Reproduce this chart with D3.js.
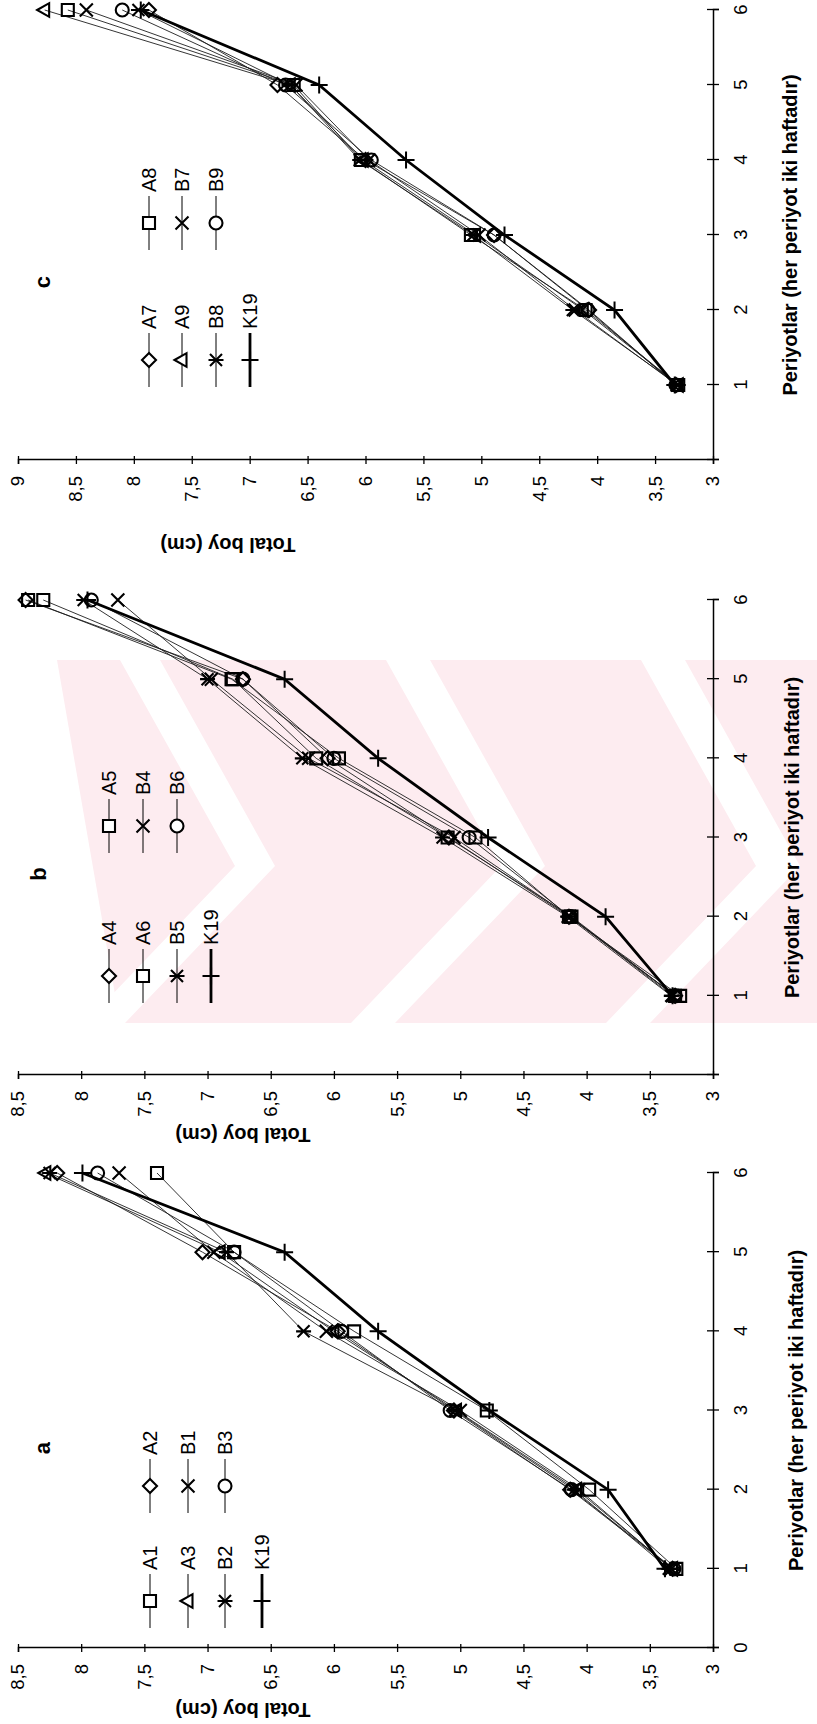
<!DOCTYPE html>
<html>
<head>
<meta charset="utf-8">
<script src="https://cdn.jsdelivr.net/npm/d3@7"></script>
<style>
  body { margin: 0; background: #fff; }
  svg { display: block; }
  text { font-family: "Liberation Sans", Arial, sans-serif; fill: #000; }
</style>
</head>
<body>
<div id="chart"></div>
<script>
const W = 817, H = 1724;

// periods on the x axis (each period is two weeks)
const periods = [1, 2, 3, 4, 5, 6];
const periodTicks = [0, 1, 2, 3, 4, 5, 6];
const valueTicksAB = [3, 3.5, 4, 4.5, 5, 5.5, 6, 6.5, 7, 7.5, 8, 8.5];
const valueTicksC = [3, 3.5, 4, 4.5, 5, 5.5, 6, 6.5, 7, 7.5, 8, 8.5, 9];

// panel a
const namesA = ["A1", "A2", "A3", "B1", "B2", "B3", "K19"];
const a_A1 = [3.29, 3.98, 4.79, 5.84, 6.79, 7.40];
const a_A2 = [3.32, 4.13, 5.05, 5.97, 7.04, 8.19];
const a_A3 = [3.32, 4.08, 5.03, 6.00, 6.90, 8.28];
const a_B1 = [3.33, 4.06, 5.00, 6.06, 6.95, 7.70];
const a_B2 = [3.35, 4.10, 5.04, 6.24, 6.85, 8.25];
const a_B3 = [3.31, 4.12, 5.08, 5.94, 6.79, 7.87];
const a_K19 = [3.38, 3.83, 4.77, 5.65, 6.39, 7.99];

// panel b
const namesB = ["A4", "A5", "A6", "B4", "B5", "B6", "K19"];
const b_A4 = [3.30, 4.14, 5.09, 6.05, 6.72, 8.44];
const b_A5 = [3.26, 4.14, 4.88, 5.96, 6.81, 8.42];
const b_A6 = [3.30, 4.12, 5.10, 6.14, 6.80, 8.30];
const b_B4 = [3.32, 4.13, 5.05, 6.20, 6.97, 7.71];
const b_B5 = [3.33, 4.15, 5.14, 6.25, 7.00, 7.98];
const b_B6 = [3.30, 4.13, 4.93, 6.00, 6.72, 7.92];
const b_K19 = [3.32, 3.85, 4.78, 5.65, 6.39, 7.95];

// panel c
const namesC = ["A7", "A8", "A9", "B7", "B8", "B9", "K19"];
const c_A7 = [3.32, 4.07, 4.89, 6.00, 6.76, 7.87];
const c_A8 = [3.30, 4.10, 5.09, 6.04, 6.62, 8.57];
const c_A9 = [3.30, 4.12, 5.05, 6.02, 6.65, 8.77];
const c_B7 = [3.31, 4.19, 5.02, 5.97, 6.60, 8.41];
const c_B8 = [3.30, 4.21, 5.07, 6.05, 6.65, 7.96];
const c_B9 = [3.32, 4.08, 4.89, 5.95, 6.69, 8.10];
const c_K19 = [3.33, 3.85, 4.80, 5.65, 6.40, 7.94];

const markersA = ["square", "diamond", "triangle", "cross", "star", "circle", "plus"];
const markersB = ["diamond", "square", "square", "cross", "star", "circle", "plus"];
const markersC = ["diamond", "square", "triangle", "cross", "star", "circle", "plus"];

const xTitle = "Periyotlar (her periyot iki haftadır)";
const yTitle = "Total boy (cm)";
const fmt = v => String(v).replace(".", ",");

// each panel is laid out in the page's own (unrotated) frame, u across, v down
const panels = [
  { letter: "a", names: namesA, values: [a_A1, a_A2, a_A3, a_B1, a_B2, a_B3, a_K19], marks: markersA,
    u0: 76, u6: 551, vmax: 8.5, vticks: valueTicksAB, zeroLabel: true,
    legRows: [150, 188, 225, 262], legCols: [96, 211], letterPos: [276, 50],
    titleV: 803, yTitlePos: [21, 243] },
  { letter: "b", names: namesB, values: [b_A4, b_A5, b_A6, b_B4, b_B5, b_B6, b_K19], marks: markersB,
    u0: 649, u6: 1124, vmax: 8.5, vticks: valueTicksAB, zeroLabel: false,
    legRows: [109, 143, 177, 211], legCols: [721, 871], letterPos: [850, 46],
    titleV: 799, yTitlePos: [596, 243] },
  { letter: "c", names: namesC, values: [c_A7, c_A8, c_A9, c_B7, c_B8, c_B9, c_K19], marks: markersC,
    u0: 1264, u6: 1714, vmax: 9, vticks: valueTicksC, zeroLabel: false,
    legRows: [149, 182, 216, 250], legCols: [1337, 1474], letterPos: [1442, 50],
    titleV: 797, yTitlePos: [1186, 228] }
];

function markerPath(type) {
  switch (type) {
    case "square": return "M-6,-6H6V6H-6Z";
    case "diamond": return "M0,-7L7,0L0,7L-7,0Z";
    case "triangle": return "M0,-7.5L6.8,4.5L-6.8,4.5Z";
    case "cross": return "M-6.5,-6.5L6.5,6.5M-6.5,6.5L6.5,-6.5";
    case "star": return "M-6,-6L6,6M-6,6L6,-6M0,-7.5V7.5";
    case "circle": return "M6.5,0A6.5,6.5 0 1 1 -6.5,0A6.5,6.5 0 1 1 6.5,0Z";
    case "plus": return "M-8.5,0H8.5M0,-8.5V8.5";
  }
}

const svg = d3.select("#chart").append("svg")
  .attr("width", W)
  .attr("height", H);
svg.append("rect").attr("width", W).attr("height", H).attr("fill", "#fff");

// pale watermark behind panel b: pink field with white chevron cut-outs
const wm = svg.append("g");
wm.append("path")
  .attr("d", "M57,660L817,660L817,1023L120,1023Z")
  .attr("fill", "#fdecf0");
[[275, 40], [545, 44], [800, 44]].forEach(([ax, t]) => {
  const cy = 866;
  wm.append("path")
    .attr("d", `M${ax - 115},660L${ax},${cy}L${ax - 150},1023L${ax - 150 - t},1023L${ax - t},${cy}L${ax - 115 - t},660Z`)
    .attr("fill", "#fff");
});

const root = svg.append("g").attr("transform", `translate(0,${H}) rotate(-90)`);

panels.forEach(p => {
  const g = root.append("g");
  const x = d3.scaleLinear().domain([0, 6]).range([p.u0, p.u6]);
  const y = d3.scaleLinear().domain([3, p.vmax]).range([713, 18]);

  // value axis
  const ya = g.append("g")
    .attr("transform", `translate(${p.u0},0)`)
    .call(d3.axisLeft(y).tickValues(p.vticks).tickFormat(fmt).tickSize(4).tickPadding(12));
  ya.select(".domain").attr("stroke", "#000").attr("stroke-width", 1.5);
  ya.selectAll(".tick line").attr("x1", -4).attr("x2", 4).attr("stroke-width", 1.3);
  ya.selectAll(".tick text").attr("font-size", 18.5).style("font-family", "Liberation Sans, Arial, sans-serif");

  // period axis
  const xa = g.append("g")
    .attr("transform", "translate(0,713)")
    .call(d3.axisBottom(x).tickValues(periodTicks)
      .tickFormat(d => (d === 0 && !p.zeroLabel) ? "" : d).tickSize(6).tickPadding(15));
  xa.select(".domain").attr("stroke", "#000").attr("stroke-width", 1.5);
  xa.selectAll(".tick line").attr("y1", -6).attr("y2", 6).attr("stroke-width", 1.3);
  xa.selectAll(".tick text").attr("font-size", 18.5).style("font-family", "Liberation Sans, Arial, sans-serif");

  g.append("text")
    .attr("x", (p.u0 + p.u6) / 2)
    .attr("y", p.titleV)
    .attr("text-anchor", "middle")
    .attr("font-size", 20)
    .attr("font-weight", "bold")
    .text(xTitle);

  g.append("text")
    .attr("transform", `translate(${p.yTitlePos[0]},${p.yTitlePos[1]}) rotate(-90)`)
    .attr("text-anchor", "middle")
    .attr("font-size", 20)
    .attr("font-weight", "bold")
    .text(yTitle);

  g.append("text")
    .attr("x", p.letterPos[0])
    .attr("y", p.letterPos[1])
    .attr("text-anchor", "middle")
    .attr("font-size", 22)
    .attr("font-weight", "bold")
    .text(p.letter);

  const line = d3.line().x((d, i) => x(periods[i])).y(d => y(d));

  // thin lines first, control K19 thick
  p.values.forEach((vals, k) => {
    const isK = p.names[k] === "K19";
    g.append("path")
      .datum(vals)
      .attr("d", line)
      .attr("fill", "none")
      .attr("stroke", isK ? "#000" : "#1e1e1e")
      .attr("stroke-width", isK ? 2.8 : 0.9);
  });

  p.values.forEach((vals, k) => {
    g.selectAll(null)
      .data(vals)
      .enter()
      .append("path")
      .attr("transform", (d, i) => `translate(${x(periods[i])},${y(d)})`)
      .attr("d", markerPath(p.marks[k]))
      .attr("fill", "none")
      .attr("stroke", "#000")
      .attr("stroke-width", p.marks[k] === "plus" ? 2 : 2.1);
  });

  // legend, two entries per row
  p.names.forEach((name, k) => {
    const row = Math.floor(k / 2), col = k % 2;
    const u = p.legCols[col], v = p.legRows[row];
    const isK = name === "K19";
    const lg = g.append("g").attr("transform", `translate(${u},${v})`);
    lg.append("line")
      .attr("x1", 0).attr("x2", 54).attr("y1", 0).attr("y2", 0)
      .attr("stroke", "#000")
      .attr("stroke-width", isK ? 2.8 : 1);
    lg.append("path")
      .attr("transform", "translate(27,0)")
      .attr("d", markerPath(p.marks[k]))
      .attr("fill", isK ? "none" : "#fff")
      .attr("stroke", "#000")
      .attr("stroke-width", 2.1);
    lg.append("text")
      .attr("x", 58)
      .attr("y", 0)
      .attr("dy", "0.36em")
      .attr("font-size", 20)
      .text(name);
  });
});
</script>
</body>
</html>
